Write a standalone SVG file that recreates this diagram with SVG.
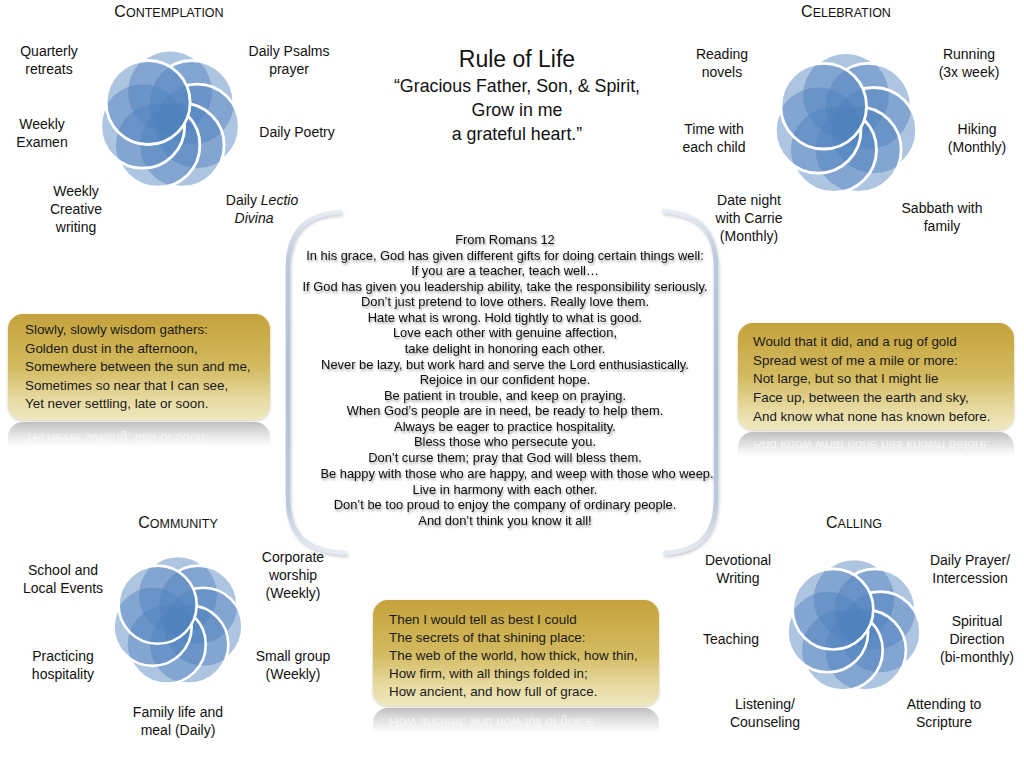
<svg xmlns="http://www.w3.org/2000/svg" xmlns:xlink="http://www.w3.org/1999/xlink" width="1024" height="759" viewBox="0 0 1024 759">
<defs>
<style>
text{font-family:"Liberation Sans",Arial,sans-serif;fill:#111}
.lbl{font-size:14px;text-anchor:middle}
.sec{font-size:12.5px;text-anchor:middle}
.sec .cap{font-size:16px}
.ttl{text-anchor:middle;fill:#111}
.rom{font-size:12.9px;text-anchor:middle;fill:#111}
.poem{font-size:13.4px;fill:#1a1a1a}
.refl{font-size:13.4px;fill:#e8e8e8}
.pf{fill:#4f81bd;fill-opacity:0.46}
.ps{fill:none;stroke:#fff;stroke-width:2.8}
.gold{fill:url(#goldGrad)}
.brk{fill:none;stroke:url(#brkGrad);stroke-width:4.5;stroke-linecap:round}
</style>
<linearGradient id="goldGrad" x1="0" y1="0" x2="0" y2="1">
<stop offset="0" stop-color="#c5a23b"/>
<stop offset="0.5" stop-color="#d3ba60"/>
<stop offset="0.82" stop-color="#e8dca4"/>
<stop offset="1" stop-color="#efe7bf"/>
</linearGradient>
<linearGradient id="reflGrad" x1="0" y1="0" x2="0" y2="1">
<stop offset="0" stop-color="#bdbdbd"/>
<stop offset="1" stop-color="#ffffff"/>
</linearGradient>
<linearGradient id="fadeGrad" x1="0" y1="0" x2="0" y2="1">
<stop offset="0" stop-color="#fff" stop-opacity="0"/>
<stop offset="1" stop-color="#fff" stop-opacity="1"/>
</linearGradient>
<linearGradient id="brkGrad" gradientUnits="userSpaceOnUse" x1="0" y1="210" x2="0" y2="555">
<stop offset="0" stop-color="#e8edf4"/>
<stop offset="0.14" stop-color="#bccadd"/>
<stop offset="0.5" stop-color="#b0bfd5"/>
<stop offset="0.86" stop-color="#bccadd"/>
<stop offset="1" stop-color="#e8edf4"/>
</linearGradient>
<filter id="tshadow" x="-10%" y="-30%" width="120%" height="160%">
<feDropShadow dx="1" dy="2" stdDeviation="1.3" flood-color="#000" flood-opacity="0.4"/>
</filter>
<filter id="bshadow" x="-10%" y="-10%" width="120%" height="120%">
<feDropShadow dx="0" dy="1" stdDeviation="1.5" flood-color="#7a6a30" flood-opacity="0.35"/>
</filter>
<filter id="brkShadow" x="-20%" y="-10%" width="140%" height="120%">
<feDropShadow dx="1" dy="2" stdDeviation="1.5" flood-color="#556" flood-opacity="0.3"/>
</filter>
<mask id="m0" maskUnits="userSpaceOnUse" x="-100" y="-100" width="200" height="200">
<rect x="-100" y="-100" width="200" height="200" fill="#fff"/>
<circle cx="21.9" cy="-17.5" r="42"/><circle cx="27.3" cy="6.2" r="42"/><circle cx="12.1" cy="25.2" r="42"/><circle cx="-12.1" cy="25.2" r="42"/><circle cx="-27.3" cy="6.2" r="42"/><circle cx="-21.9" cy="-17.5" r="42"/>
</mask>
<mask id="m1" maskUnits="userSpaceOnUse" x="-100" y="-100" width="200" height="200">
<rect x="-100" y="-100" width="200" height="200" fill="#fff"/>
<circle cx="27.3" cy="6.2" r="42"/><circle cx="12.1" cy="25.2" r="42"/><circle cx="-12.1" cy="25.2" r="42"/><circle cx="-27.3" cy="6.2" r="42"/><circle cx="-21.9" cy="-17.5" r="42"/>
</mask>
<mask id="m2" maskUnits="userSpaceOnUse" x="-100" y="-100" width="200" height="200">
<rect x="-100" y="-100" width="200" height="200" fill="#fff"/>
<circle cx="12.1" cy="25.2" r="42"/><circle cx="-12.1" cy="25.2" r="42"/><circle cx="-27.3" cy="6.2" r="42"/><circle cx="-21.9" cy="-17.5" r="42"/>
</mask>
<mask id="m3" maskUnits="userSpaceOnUse" x="-100" y="-100" width="200" height="200">
<rect x="-100" y="-100" width="200" height="200" fill="#fff"/>
<circle cx="-12.1" cy="25.2" r="42"/><circle cx="-27.3" cy="6.2" r="42"/><circle cx="-21.9" cy="-17.5" r="42"/>
</mask>
<mask id="m4" maskUnits="userSpaceOnUse" x="-100" y="-100" width="200" height="200">
<rect x="-100" y="-100" width="200" height="200" fill="#fff"/>
<circle cx="-27.3" cy="6.2" r="42"/><circle cx="-21.9" cy="-17.5" r="42"/>
</mask>
<mask id="m5" maskUnits="userSpaceOnUse" x="-100" y="-100" width="200" height="200">
<rect x="-100" y="-100" width="200" height="200" fill="#fff"/>
<circle cx="-21.9" cy="-17.5" r="42"/>
</mask>
<g id="flower">
<circle class="pf" cx="0" cy="-28" r="42"/>
<circle class="pf" cx="21.9" cy="-17.5" r="42"/>
<circle class="pf" cx="27.3" cy="6.2" r="42"/>
<circle class="pf" cx="12.1" cy="25.2" r="42"/>
<circle class="pf" cx="-12.1" cy="25.2" r="42"/>
<circle class="pf" cx="-27.3" cy="6.2" r="42"/>
<circle class="pf" cx="-21.9" cy="-17.5" r="42"/>
<circle class="ps" cx="0" cy="-28" r="42" mask="url(#m0)"/>
<circle class="ps" cx="21.9" cy="-17.5" r="42" mask="url(#m1)"/>
<circle class="ps" cx="27.3" cy="6.2" r="42" mask="url(#m2)"/>
<circle class="ps" cx="12.1" cy="25.2" r="42" mask="url(#m3)"/>
<circle class="ps" cx="-12.1" cy="25.2" r="42" mask="url(#m4)"/>
<circle class="ps" cx="-27.3" cy="6.2" r="42" mask="url(#m5)"/>
<circle class="ps" cx="-21.9" cy="-17.5" r="42"/>
</g>
<clipPath id="clipL"><rect x="0" y="421" width="280" height="26"/></clipPath>
<clipPath id="clipR"><rect x="730" y="431" width="294" height="26"/></clipPath>
<clipPath id="clipB"><rect x="365" y="707" width="300" height="26"/></clipPath>
</defs>

<rect x="0" y="0" width="1024" height="759" fill="#ffffff"/>

<g id="title">
<text class="ttl" x="517" y="67" font-size="23">Rule of Life</text>
<text class="ttl" x="517" y="92" font-size="17.8">“Gracious Father, Son, &amp; Spirit,</text>
<text class="ttl" x="517" y="116" font-size="17.8">Grow in me</text>
<text class="ttl" x="517" y="140" font-size="17.8">a grateful heart.”</text>
</g>

<g id="connectors">
<path class="brk" filter="url(#brkShadow)" d="M 340 212 C 305 214 288 232 288 268 L 288 498 C 288 534 305 551 345 553"/>
<path class="brk" filter="url(#brkShadow)" d="M 664 211 C 700 214 716 232 716 268 L 716 498 C 716 534 700 551 665 553"/>
</g>

<g id="romans" filter="url(#tshadow)">
<text class="rom" x="505" y="244">From Romans 12</text>
<text class="rom" x="505" y="260">In his grace, God has given different gifts for doing certain things well:</text>
<text class="rom" x="505" y="275">If you are a teacher, teach well…</text>
<text class="rom" x="505" y="291">If God has given you leadership ability, take the responsibility seriously.</text>
<text class="rom" x="505" y="306">Don’t just pretend to love others. Really love them.</text>
<text class="rom" x="505" y="322">Hate what is wrong. Hold tightly to what is good.</text>
<text class="rom" x="505" y="337">Love each other with genuine affection,</text>
<text class="rom" x="505" y="353">take delight in honoring each other.</text>
<text class="rom" x="505" y="369">Never be lazy, but work hard and serve the Lord enthusiastically.</text>
<text class="rom" x="505" y="384">Rejoice in our confident hope.</text>
<text class="rom" x="505" y="400">Be patient in trouble, and keep on praying.</text>
<text class="rom" x="505" y="415">When God’s people are in need, be ready to help them.</text>
<text class="rom" x="505" y="431">Always be eager to practice hospitality.</text>
<text class="rom" x="505" y="446">Bless those who persecute you.</text>
<text class="rom" x="505" y="462">Don’t curse them; pray that God will bless them.</text>
<text class="rom" x="517" y="478">Be happy with those who are happy, and weep with those who weep.</text>
<text class="rom" x="505" y="494">Live in harmony with each other.</text>
<text class="rom" x="505" y="509">Don’t be too proud to enjoy the company of ordinary people.</text>
<text class="rom" x="505" y="525">And don’t think you know it all!</text>
</g>

<g id="contemplation">
<use href="#flower" xlink:href="#flower" transform="translate(170,120)"/>
<text class="sec" x="169" y="17"><tspan class="cap">C</tspan>ONTEMPLATION</text>
<text class="lbl" x="49" y="56">Quarterly<tspan x="49" dy="18">retreats</tspan></text>
<text class="lbl" x="289" y="56">Daily Psalms<tspan x="289" dy="18">prayer</tspan></text>
<text class="lbl" x="42" y="129">Weekly<tspan x="42" dy="18">Examen</tspan></text>
<text class="lbl" x="297" y="137">Daily Poetry</text>
<text class="lbl" x="76" y="196">Weekly<tspan x="76" dy="18">Creative</tspan><tspan x="76" dy="18">writing</tspan></text>
<text class="lbl" x="262" y="205">Daily <tspan font-style="italic">Lectio</tspan><tspan x="254" dy="18" font-style="italic">Divina</tspan></text>
</g>

<g id="celebration">
<use href="#flower" xlink:href="#flower" transform="translate(846,124) scale(1.02)"/>
<text class="sec" x="846" y="17"><tspan class="cap">C</tspan>ELEBRATION</text>
<text class="lbl" x="722" y="59">Reading<tspan x="722" dy="18">novels</tspan></text>
<text class="lbl" x="969" y="59">Running<tspan x="969" dy="18">(3x week)</tspan></text>
<text class="lbl" x="714" y="134">Time with<tspan x="714" dy="18">each child</tspan></text>
<text class="lbl" x="977" y="134">Hiking<tspan x="977" dy="18">(Monthly)</tspan></text>
<text class="lbl" x="749" y="205">Date night<tspan x="749" dy="18">with Carrie</tspan><tspan x="749" dy="18">(Monthly)</tspan></text>
<text class="lbl" x="942" y="213">Sabbath with<tspan x="942" dy="18">family</tspan></text>
</g>

<g id="community">
<use href="#flower" xlink:href="#flower" transform="translate(178,621) scale(0.93)"/>
<text class="sec" x="178" y="528"><tspan class="cap">C</tspan>OMMUNITY</text>
<text class="lbl" x="63" y="575">School and<tspan x="63" dy="18">Local Events</tspan></text>
<text class="lbl" x="293" y="562">Corporate<tspan x="293" dy="18">worship</tspan><tspan x="293" dy="18">(Weekly)</tspan></text>
<text class="lbl" x="63" y="661">Practicing<tspan x="63" dy="18">hospitality</tspan></text>
<text class="lbl" x="293" y="661">Small group<tspan x="293" dy="18">(Weekly)</tspan></text>
<text class="lbl" x="178" y="717">Family life and<tspan x="178" dy="18">meal (Daily)</tspan></text>
</g>

<g id="calling">
<use href="#flower" xlink:href="#flower" transform="translate(854,626) scale(0.96)"/>
<text class="sec" x="854" y="528"><tspan class="cap">C</tspan>ALLING</text>
<text class="lbl" x="738" y="565">Devotional<tspan x="738" dy="18">Writing</tspan></text>
<text class="lbl" x="970" y="565">Daily Prayer/<tspan x="970" dy="18">Intercession</tspan></text>
<text class="lbl" x="977" y="626">Spiritual<tspan x="977" dy="18">Direction</tspan><tspan x="977" dy="18">(bi-monthly)</tspan></text>
<text class="lbl" x="731" y="644">Teaching</text>
<text class="lbl" x="765" y="709">Listening/<tspan x="765" dy="18">Counseling</tspan></text>
<text class="lbl" x="944" y="709">Attending to<tspan x="944" dy="18">Scripture</tspan></text>
</g>

<g id="poem-left">
<rect class="gold" filter="url(#bshadow)" x="8" y="314" width="262" height="106" rx="15"/>
<text class="poem" x="25" y="334">Slowly, slowly wisdom gathers:<tspan x="25" dy="18.6">Golden dust in the afternoon,</tspan><tspan x="25" dy="18.6">Somewhere between the sun and me,</tspan><tspan x="25" dy="18.6">Sometimes so near that I can see,</tspan><tspan x="25" dy="18.6">Yet never settling, late or soon.</tspan></text>
<g clip-path="url(#clipL)">
<g transform="matrix(1 0 0 -1 0 842)">
<rect x="8" y="314" width="262" height="106" rx="15" fill="url(#reflGrad)" transform="matrix(1 0 0 -1 0 734)"/>
<text class="refl" x="25" y="408.4">Yet never settling, late or soon.</text>
</g>
<rect x="8" y="421" width="262" height="26" fill="url(#fadeGrad)"/>
</g>
</g>

<g id="poem-right">
<rect class="gold" filter="url(#bshadow)" x="738" y="323" width="276" height="107" rx="15"/>
<text class="poem" x="753" y="346">Would that it did, and a rug of gold<tspan x="753" dy="18.7">Spread west of me a mile or more:</tspan><tspan x="753" dy="18.7">Not large, but so that I might lie</tspan><tspan x="753" dy="18.7">Face up, between the earth and sky,</tspan><tspan x="753" dy="18.7">And know what none has known before.</tspan></text>
<g clip-path="url(#clipR)">
<g transform="matrix(1 0 0 -1 0 862)">
<rect x="738" y="323" width="276" height="107" rx="15" fill="url(#reflGrad)" transform="matrix(1 0 0 -1 0 753)"/>
<text class="refl" x="753" y="420.8">And know what none has known before.</text>
</g>
<rect x="738" y="431" width="276" height="26" fill="url(#fadeGrad)"/>
</g>
</g>

<g id="poem-bottom">
<rect class="gold" filter="url(#bshadow)" x="373" y="600" width="286" height="106" rx="15"/>
<text class="poem" x="389" y="624">Then I would tell as best I could<tspan x="389" dy="18">The secrets of that shining place:</tspan><tspan x="389" dy="18">The web of the world, how thick, how thin,</tspan><tspan x="389" dy="18">How firm, with all things folded in;</tspan><tspan x="389" dy="18">How ancient, and how full of grace.</tspan></text>
<g clip-path="url(#clipB)">
<g transform="matrix(1 0 0 -1 0 1414)">
<rect x="373" y="600" width="286" height="106" rx="15" fill="url(#reflGrad)" transform="matrix(1 0 0 -1 0 1306)"/>
<text class="refl" x="389" y="696">How ancient, and how full of grace.</text>
</g>
<rect x="373" y="707" width="286" height="26" fill="url(#fadeGrad)"/>
</g>
</g>
</svg>
